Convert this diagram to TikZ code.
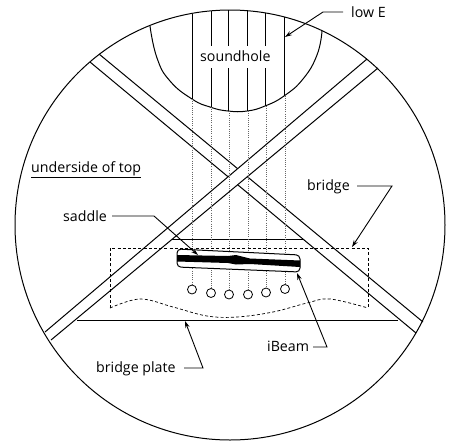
\documentclass[tikz,border=0pt]{standalone}
\usepackage{fontspec}
\setmainfont{Open Sans}
\usetikzlibrary{arrows.meta}
\tikzset{
 ln/.style={line width=1pt,black},
 lbl/.style={inner sep=0pt,font=\fontsize{14.2}{16}\selectfont,anchor=base west},
 leader/.style={line width=0.9pt,black,-{Stealth[length=7pt,width=4.5pt]}},
 dots/.style={line width=0.5pt,black!60,dash pattern=on 1pt off 1.2pt},
 dsh/.style={line width=0.7pt,black,dash pattern=on 3pt off 2.2pt},
 hole/.style={circle,draw,line width=0.8pt,fill=white,minimum size=9pt,inner sep=0pt}
}
\begin{document}
\begin{tikzpicture}[x=1pt,y=-1pt]
\useasboundingbox (0,0) rectangle (453,440);
\fill[white] (0,0) rectangle (453,440);
% braces
\draw[ln] (99,54) -- (423,322);
\draw[ln] (90,62) -- (416,333);
\fill[white] (360,65) -- (372,73) -- (57,335) -- (51,327) -- cycle;
\draw[ln] (367,59) -- (45,332);
\draw[ln] (378,68) -- (51,340);
% top outline
\node[circle,draw,line width=1pt,minimum size=430pt,inner sep=0pt] (top) at (230,225) {};
% soundhole
\draw[ln] plot[smooth,tension=0.8] coordinates {(150,26)(157,58)(170,81)(192,99)(210,107)(228,111)(247,111)(265,106)(284,96)(303,79)(317,55)(322,31)};
\foreach \x/\a/\b/\c in {211/11/46/68,228/10/46/68,247/11/46/68,265/13/46/68}{
  \draw[ln] (\x,\a) -- (\x,\b) (\x,\c) -- (\x,\ifnum\x=211 107\else\ifnum\x=265 106\else 111\fi\fi);
}
\draw[ln] (192,14) -- (192,99);
\draw[ln] (284,17) -- (284,96);
% bridge plate
\draw[ln] (77,320) -- (398,320);
\draw[ln] (172,239) -- (303,239);
% strings over the top
\foreach \x/\a/\b in {192/99/285,211/107/288,229/111/290,248/111/290,266/106/288,285/96/284}{
  \draw[dots] (\x,\a) -- (\x,\b);
}
% bridge outline
\draw[dsh] (110,308) -- (110,248) -- (368,248) -- (368,308);
\draw[dsh] plot[smooth,tension=0.6] coordinates {(110,308)(140,299)(173,307)(207,316)(237,317)(273,312)(307,303)(330,299)(368,308)};
% pin holes
\node[hole] (p1) at (192,289.5) {};
\node[hole] (p2) at (211,293) {};
\node[hole] (p3) at (229,294.5) {};
\node[hole] (p4) at (248,294.5) {};
\node[hole] (p5) at (266,292.5) {};
\node[hole] (p6) at (285,289) {};
% saddle with iBeam
\draw[line width=1pt,fill=white,rounded corners=4pt] (177,249) -- (300,255) -- (300,272) -- (177,267) -- cycle;
\fill[black] (177,255) -- (228,256) -- (236,255) -- (250,258.5) -- (300,260.5) -- (300,267) -- (250,264) -- (236,264.5) -- (228,263) -- (177,261.5) -- cycle;
% labels
\node[lbl] (sh) at (200,61) {soundhole};
\node[lbl] (low) at (351,17) {low E};
\node[lbl] (us) at (31,172) {underside of top};
\draw[line width=0.9pt] (us.south west)++(0,2) coordinate (u1) -- (us.south east |- u1);
\node[lbl] (sad) at (63,221) {saddle};
\node[lbl] (brg) at (307,190) {bridge};
\node[lbl] (ib) at (267,351) {iBeam};
\node[lbl] (bp) at (96,372) {bridge plate};
% leaders
\coordinate (t1) at (285,37);
\coordinate (t2) at (198,255);
\coordinate (t3) at (352,247);
\coordinate (t4) at (297,273);
\coordinate (t5) at (185,321);
\draw[leader] (343,12) -- (323,12) -- (t1);
\draw[leader] (112,216) -- (154,216) -- (t2);
\draw[leader] (357,186) -- (392,186) -- (t3);
\draw[leader] (313,347) -- (327,347) -- (t4);
\draw[leader] (184,368) -- (203,368) -- (t5);
\end{tikzpicture}
\end{document}
